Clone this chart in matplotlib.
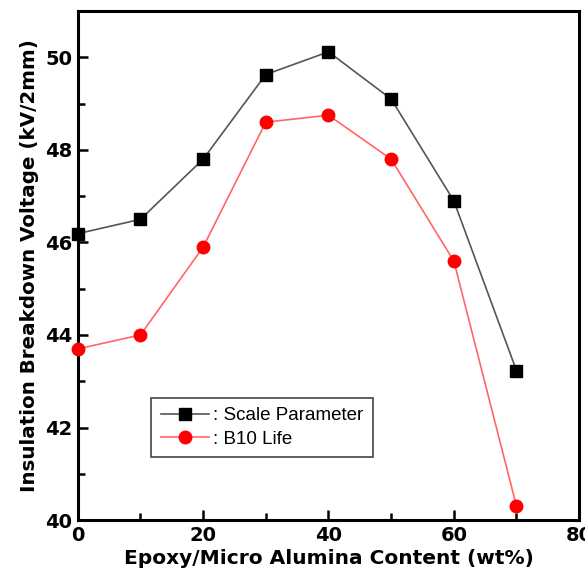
import numpy as np
import matplotlib.pyplot as plt
from matplotlib.ticker import MultipleLocator

# data
content = [0, 10, 20, 30, 40, 50, 60, 70]
scale_param = [46.19, 46.5, 47.8, 49.63, 50.12, 49.1, 46.9, 43.23]
b10_life = [43.7, 44.0, 45.9, 48.6, 48.75, 47.8, 45.6, 40.3]

fig = plt.figure(figsize=(5.85, 5.85), dpi=100)
ax = fig.add_axes([0.133, 0.111, 0.857, 0.870])

ax.plot(content, scale_param, color='#555555', lw=1.2, marker='s', ms=9,
        mfc='black', mec='black', label=': Scale Parameter', clip_on=False, zorder=3)
ax.plot(content, b10_life, color='#ff6666', lw=1.2, marker='o', ms=9,
        mfc='red', mec='red', label=': B10 Life', clip_on=False, zorder=3)

ax.set_xlim(0, 80)
ax.set_ylim(40, 51)
ax.xaxis.set_major_locator(MultipleLocator(20))
ax.xaxis.set_minor_locator(MultipleLocator(10))
ax.yaxis.set_major_locator(MultipleLocator(2))
ax.yaxis.set_minor_locator(MultipleLocator(1))
ax.tick_params(which='both', direction='in', width=1.8, top=False, right=False)
ax.tick_params(which='major', length=7, labelsize=14, pad=4)
ax.tick_params(which='minor', length=5)
for lab in ax.get_xticklabels() + ax.get_yticklabels():
    lab.set_fontweight('bold')
for s in ax.spines.values():
    s.set_linewidth(2.2)

ax.set_xlabel('Epoxy/Micro Alumina Content (wt%)', fontsize=14.5, fontweight='bold', labelpad=3)
ax.set_ylabel('Insulation Breakdown Voltage (kV/2mm)', fontsize=14.3, fontweight='bold', labelpad=4)

leg = ax.legend(loc='lower left', bbox_to_anchor=(0.128, 0.105),
                prop={'family': 'Liberation Sans', 'size': 13.5},
                fancybox=False, edgecolor='#444444', framealpha=1,
                handlelength=2.6, borderpad=0.5, labelspacing=0.35, handletextpad=0.2)
leg.get_frame().set_linewidth(1.2)

fig.savefig('out.png', dpi=100)
